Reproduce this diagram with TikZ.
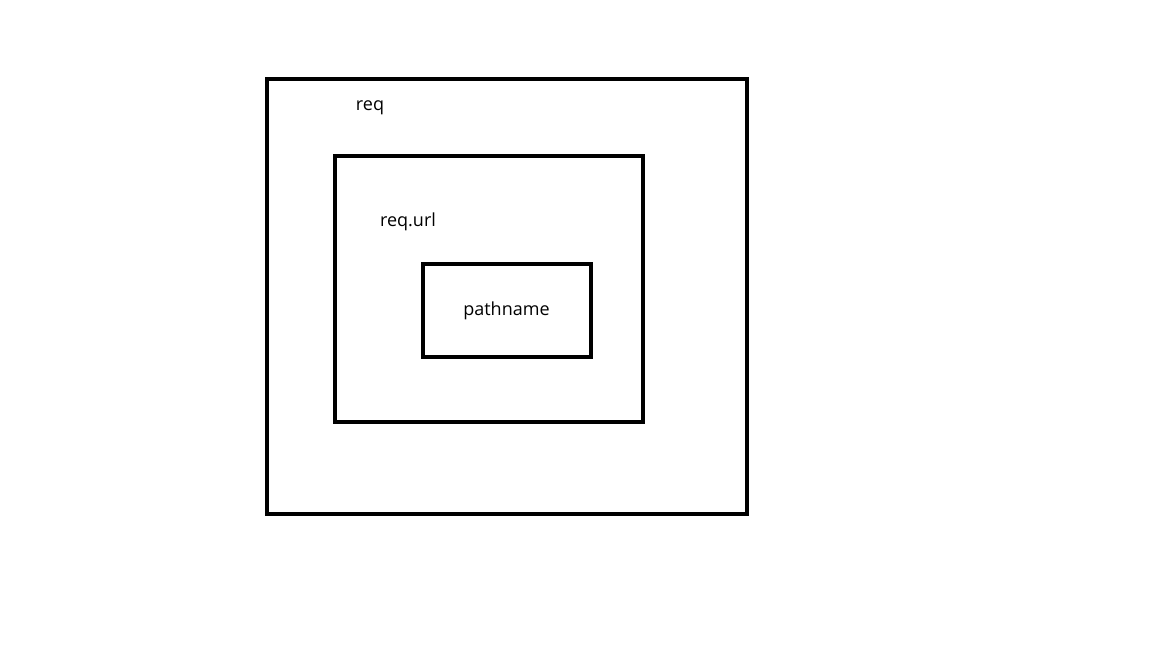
\documentclass[tikz,border=0pt]{standalone}
\usepackage{fontspec}
\setmainfont{Open Sans}
\begin{document}
\begin{tikzpicture}[x=1pt,y=-1pt,
  box/.style={draw=black,line width=4.5pt,fill=none},
  lbl/.style={inner sep=0pt,font=\fontsize{18}{20}\selectfont,text=black}]
\useasboundingbox (0,0) rectangle (1152,648);
\draw[box] (267,79) rectangle (747,514);
\draw[box] (335,156) rectangle (643,422);
\draw[box] (423,264) rectangle (591,357);
\node[lbl] (req) at (370,107.5) {req};
\node[lbl] (url) at (408,221.5) {req.url};
\node[lbl] (path) at (506.5,311) {pathname};
\end{tikzpicture}
\end{document}
